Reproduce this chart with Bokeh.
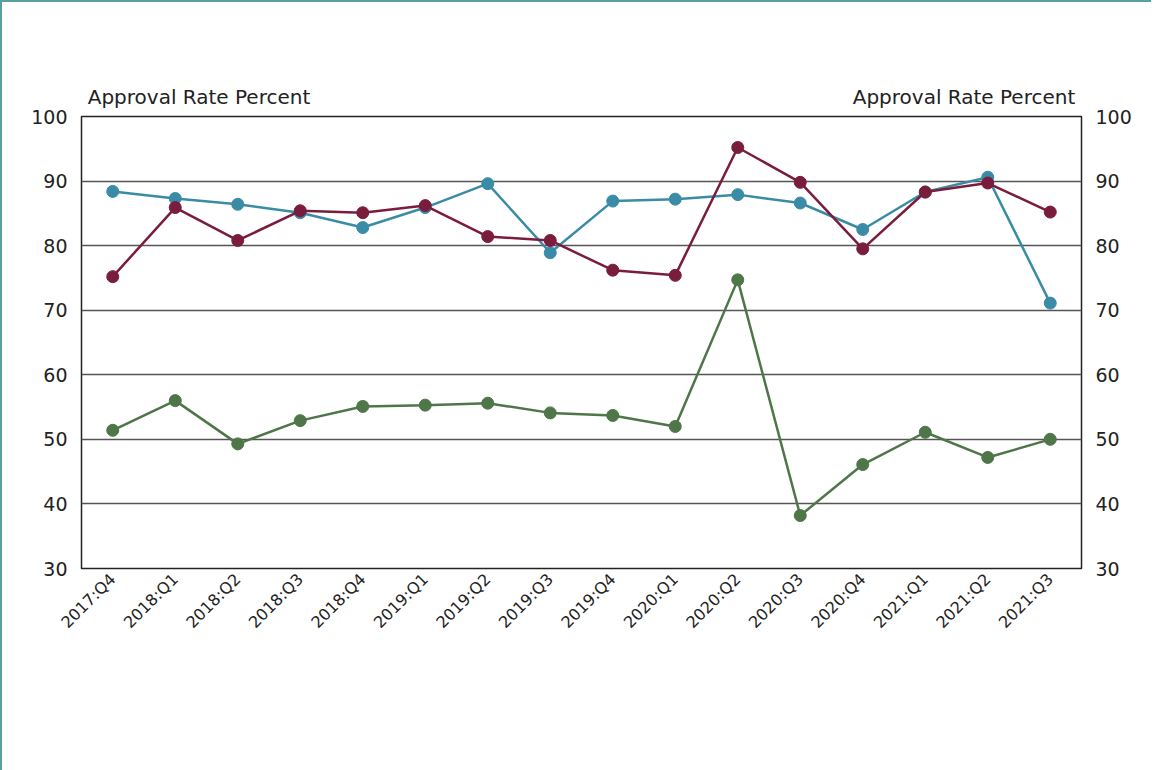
import math
from bokeh.plotting import figure
from bokeh.models import (Range1d, LinearAxis, Legend, LegendItem, FixedTicker)
from bokeh.embed import file_html
from bokeh.resources import INLINE

quarters = ["2017:Q4", "2018:Q1", "2018:Q2", "2018:Q3", "2018:Q4", "2019:Q1",
            "2019:Q2", "2019:Q3", "2019:Q4", "2020:Q1", "2020:Q2", "2020:Q3",
            "2020:Q4", "2021:Q1", "2021:Q2", "2021:Q3"]
small = [88.4, 87.3, 86.4, 85.1, 82.8, 85.9, 89.6, 78.9, 86.9, 87.2, 87.9, 86.6,
         82.5, 88.3, 90.6, 71.1]
midsized = [75.2, 85.9, 80.8, 85.4, 85.1, 86.2, 81.4, 80.8, 76.2, 75.4, 95.2, 89.8,
            79.5, 88.3, 89.7, 85.2]
large = [51.4, 56.0, 49.3, 52.9, 55.1, 55.3, 55.6, 54.1, 53.7, 52.0, 74.7, 38.2,
         46.1, 51.1, 47.2, 50.0]
y_ticks = [30, 40, 50, 60, 70, 80, 90, 100]
axis_title = "Approval Rate Percent"

FONT = "DejaVu Sans"
C_SMALL = "#3a8ca6"
C_MID = "#7a1d3c"
C_LARGE = "#4e7648"

idx = list(range(len(quarters)))

p = figure(x_range=Range1d(-0.5, len(quarters) - 0.5), y_range=Range1d(30, 100),
           frame_width=1000, frame_height=452,
           output_backend="svg", toolbar_location=None,
           min_border_left=79, min_border_right=70, min_border_top=114,
           min_border_bottom=0, background_fill_color="white",
           border_fill_color="white")
p.styles = {"border-left": "2px solid #5a9ea0", "border-top": "2px solid #5a9ea0"}

p.outline_line_color = "#222222"
p.outline_line_width = 1.5
p.xgrid.grid_line_color = None
p.ygrid.grid_line_color = "#555555"
p.ygrid.grid_line_width = 1.3
p.ygrid.ticker = FixedTicker(ticks=y_ticks)

right_axis = LinearAxis()
p.add_layout(right_axis, "right")

for ax in [p.yaxis[0], right_axis]:
    ax.ticker = FixedTicker(ticks=y_ticks)
    ax.axis_line_color = None
    ax.major_tick_line_color = None
    ax.minor_tick_line_color = None
    ax.major_tick_out = 0
    ax.major_label_standoff = 14
    ax.major_label_text_font = FONT
    ax.major_label_text_font_size = "19px"
    ax.major_label_text_color = "#222222"

xa = p.xaxis[0]
xa.ticker = FixedTicker(ticks=idx)
xa.major_label_overrides = {i: q for i, q in zip(idx, quarters)}
xa.axis_line_color = None
xa.major_tick_line_color = None
xa.minor_tick_line_color = None
xa.major_tick_out = 0
xa.major_label_orientation = math.pi / 4
xa.major_label_standoff = 8
xa.major_label_text_font = FONT
xa.major_label_text_font_size = "16px"
xa.major_label_text_color = "#222222"

# axis titles at the top corners, drawn by an axis above the frame
title_pos = [1.38, len(quarters) - 2.38]
top_axis = LinearAxis(ticker=FixedTicker(ticks=title_pos),
                      major_label_overrides={t: axis_title for t in title_pos})
top_axis.axis_line_color = None
top_axis.major_tick_line_color = None
top_axis.minor_tick_line_color = None
top_axis.major_tick_out = 0
top_axis.major_label_standoff = 8
top_axis.major_label_text_font = FONT
top_axis.major_label_text_font_size = "20px"
top_axis.major_label_text_color = "#222222"
p.add_layout(top_axis, "above")

renderers = []
for data, col in [(small, C_SMALL), (midsized, C_MID), (large, C_LARGE)]:
    l = p.line(x=idx, y=data, line_color=col, line_width=2.5)
    s = p.scatter(x=idx, y=data, size=12, fill_color=col, line_color=col)
    renderers.append([l, s])

legend = Legend(items=[LegendItem(label="Small", renderers=renderers[0]),
                       LegendItem(label="Midsized", renderers=renderers[1]),
                       LegendItem(label="Large", renderers=renderers[2])],
                orientation="horizontal", location="center",
                label_text_font=FONT, label_text_font_size="20px",
                label_text_color="#222222", glyph_width=32, spacing=14,
                border_line_color=None, background_fill_alpha=0,
                margin=0, padding=2)
p.add_layout(legend, "below")

open("out.html", "w").write(file_html(p, INLINE))
